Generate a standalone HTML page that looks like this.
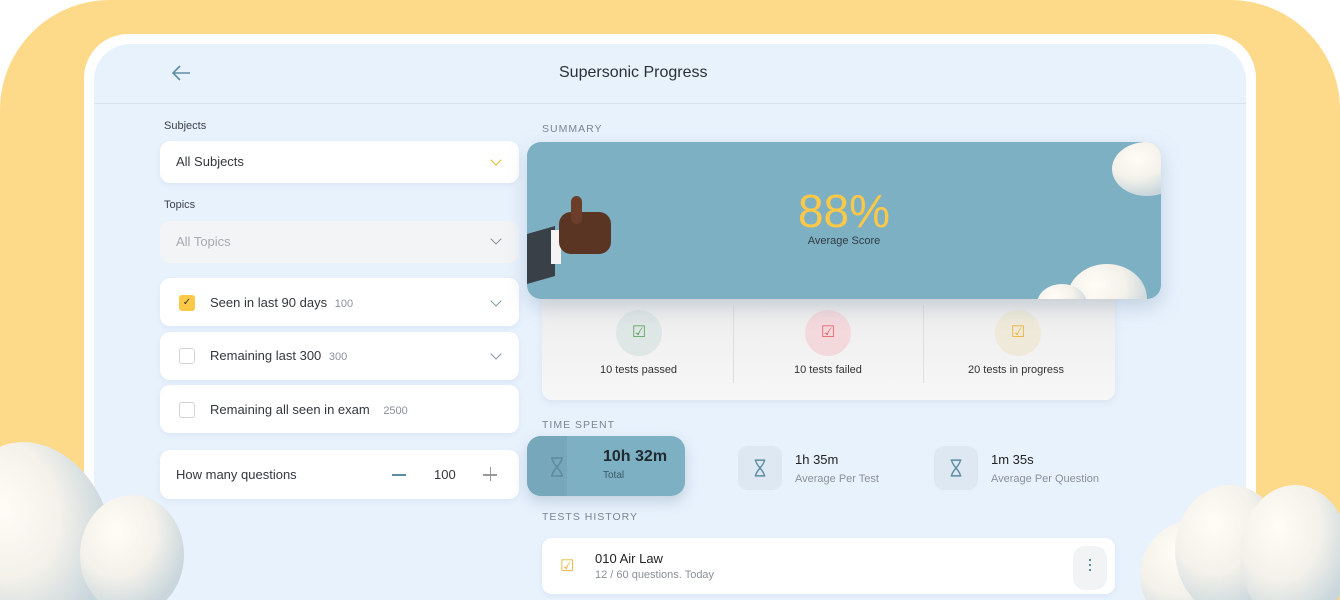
<!DOCTYPE html>
<html style="width:1340px;height:600px;overflow:hidden"><head><meta charset="utf-8"><style>
*{box-sizing:border-box;margin:0;padding:0}
body{width:1340px;height:600px;overflow:hidden;background:#fff;font-family:"Liberation Sans",sans-serif;position:relative;color:#2b2f36}
.abs{position:absolute}
.yel{left:0;top:0;width:1340px;height:600px;background:#fdd98a;border-radius:110px 110px 0 0}
.frame{left:84px;top:34px;width:1172px;height:566px;background:#fff;border-radius:44px 44px 0 0}
.panel{left:94px;top:44px;width:1152px;height:556px;background:#e8f2fd;border-radius:36px 36px 0 0}
.card{background:#fff;border-radius:10px;box-shadow:0 2px 6px rgba(120,150,190,.12)}
.lbl{font-size:11px;color:#3a3f47}
.sec{font-size:10.5px;letter-spacing:1px;color:#7b8592}
.chev{width:8px;height:8px;border-right:1.5px solid #7d98a8;border-bottom:1.5px solid #7d98a8;transform:rotate(45deg)}
.cb{width:16px;height:16px;border:1.5px solid #cfd3d8;border-radius:3px}
.t13{font-size:13px;color:#33373d}
.small{font-size:11px;color:#8a9099}
.hg{width:44px;height:44px;border-radius:10px;background:#dde8f2;display:flex;align-items:center;justify-content:center}
</style></head><body>
<div class="abs yel"></div>
<div class="abs frame"></div>
<div class="abs panel"></div>
<div class="abs" style="left:94px;top:103px;width:1152px;height:1px;background:#d6e2ee"></div>
<svg class="abs" style="left:170px;top:64px" width="22" height="18" viewBox="0 0 22 18"><path d="M20 9H3M10 2L3 9l7 7" fill="none" stroke="#5e8ea3" stroke-width="1.6"/></svg>
<div class="abs" style="left:559px;top:64px;font-size:16px;color:#2b2f36">Supersonic Progress</div>

<div class="abs lbl" style="left:164px;top:120px">Subjects</div>
<div class="abs card" style="left:160px;top:141px;width:359px;height:42px"></div>
<div class="abs t13" style="left:176px;top:154px">All Subjects</div>
<div class="abs chev" style="left:492px;top:156px;border-color:#f0b429"></div>
<div class="abs lbl" style="left:164px;top:199px">Topics</div>
<div class="abs" style="left:160px;top:221px;width:359px;height:42px;background:#f2f4f6;border-radius:10px"></div>
<div class="abs t13" style="left:176px;top:234px;color:#a6abb2">All Topics</div>
<div class="abs chev" style="left:492px;top:235px;border-color:#8a9099"></div>

<div class="abs card" style="left:160px;top:278px;width:359px;height:48px"></div>
<div class="abs cb" style="left:179px;top:295px;background:#fbc847;border-color:#fbc847;font-size:10px;line-height:13px;text-align:center;color:#333">&#10003;</div>
<div class="abs t13" style="left:210px;top:295px">Seen in last 90 days <span class="small" style="margin-left:4px">100</span></div>
<div class="abs chev" style="left:492px;top:297px"></div>
<div class="abs card" style="left:160px;top:332px;width:359px;height:48px"></div>
<div class="abs cb" style="left:179px;top:348px"></div>
<div class="abs t13" style="left:210px;top:348px">Remaining last 300 <span class="small" style="margin-left:4px">300</span></div>
<div class="abs chev" style="left:492px;top:350px"></div>
<div class="abs card" style="left:160px;top:385px;width:359px;height:48px"></div>
<div class="abs cb" style="left:179px;top:402px"></div>
<div class="abs t13" style="left:210px;top:402px">Remaining all seen in exam <span class="small" style="margin-left:10px">2500</span></div>
<div class="abs card" style="left:160px;top:450px;width:359px;height:49px"></div>
<div class="abs t13" style="left:176px;top:467px">How many questions</div>
<div class="abs" style="left:392px;top:474px;width:14px;height:1.5px;background:#5d8ba0"></div>
<div class="abs t13" style="left:434px;top:467px">100</div>
<div class="abs" style="left:483px;top:474px;width:14px;height:1.5px;background:#999"></div>
<div class="abs" style="left:489.5px;top:467px;width:1.5px;height:14px;background:#999"></div>

<div class="abs sec" style="left:542px;top:123px">SUMMARY</div>
<div class="abs" style="left:542px;top:290px;width:573px;height:110px;background:linear-gradient(#ececec,#f7f7f7);border-radius:10px;box-shadow:0 3px 8px rgba(0,0,0,.06)"></div>
<div class="abs" style="left:733px;top:305px;width:1px;height:78px;background:#dedede"></div>
<div class="abs" style="left:923px;top:305px;width:1px;height:78px;background:#dedede"></div>
<div class="abs" style="left:616px;top:310px;width:46px;height:46px;border-radius:50%;background:#dfe6e6;color:#5ea85e;text-align:center;line-height:46px;font-size:16px">&#9745;</div>
<div class="abs" style="left:805px;top:310px;width:46px;height:46px;border-radius:50%;background:#f3d9dc;color:#e2666e;text-align:center;line-height:46px;font-size:16px">&#9745;</div>
<div class="abs" style="left:995px;top:310px;width:46px;height:46px;border-radius:50%;background:#efe9da;color:#eab43a;text-align:center;line-height:46px;font-size:16px">&#9745;</div>
<div class="abs" style="left:600px;top:364px;font-size:11px;color:#333">10 tests passed</div>
<div class="abs" style="left:794px;top:364px;font-size:11px;color:#333">10 tests failed</div>
<div class="abs" style="left:968px;top:364px;font-size:11px;color:#333">20 tests in progress</div>

<svg class="abs" style="left:527px;top:142px;filter:drop-shadow(0 8px 10px rgba(80,110,140,.25))" width="634" height="157" viewBox="0 0 634 157">
 <defs>
  <clipPath id="cc"><rect width="634" height="157" rx="14"/></clipPath>
  <radialGradient id="cg" cx="35%" cy="30%" r="70%"><stop offset="0" stop-color="#fffdf6"/><stop offset=".55" stop-color="#f3f1ea"/><stop offset="1" stop-color="#c9d6dc"/></radialGradient>
 </defs>
 <g clip-path="url(#cc)">
  <rect width="634" height="157" fill="#7eb0c3"/>
  <polygon points="0,92 28,84 28,134 0,142" fill="#3a4047"/>
  <rect x="24" y="88" width="10" height="34" fill="#f4f4f4"/>
  <rect x="32" y="70" width="52" height="42" rx="12" fill="#5a3524"/>
  <rect x="44" y="54" width="11" height="28" rx="6" fill="#6a3e28"/>
  <ellipse cx="620" cy="27" rx="35" ry="27" fill="url(#cg)"/>
  <ellipse cx="580" cy="157" rx="40" ry="35" fill="url(#cg)"/>
  <ellipse cx="535" cy="162" rx="25" ry="20" fill="url(#cg)"/>
 </g>
</svg>
<div class="abs" style="left:527px;top:186px;width:634px;text-align:center;font-size:46px;color:#fbc847;line-height:50px">88%</div>
<div class="abs" style="left:527px;top:235px;width:634px;text-align:center;font-size:11px;color:#2f3b44">Average Score</div>

<div class="abs sec" style="left:542px;top:419px">TIME SPENT</div>
<div class="abs" style="left:527px;top:436px;width:158px;height:60px;background:#7eb0c3;border-radius:14px;box-shadow:0 6px 14px rgba(80,110,140,.25)"></div>
<div class="abs" style="left:527px;top:436px;width:40px;height:60px;background:#76a7ba;border-radius:14px 0 0 14px"></div>
<svg class="abs" style="left:549px;top:457px" width="16" height="20" viewBox="0 0 16 20"><path d="M2 1h12M2 19h12M3 1c0 6 10 12 10 18M13 1c0 6-10 12-10 18" fill="none" stroke="#5d8ba0" stroke-width="1.5"/></svg>
<div class="abs" style="left:603px;top:448px;font-size:16px;font-weight:bold;color:#1f2a30">10h 32m</div>
<div class="abs" style="left:603px;top:470px;font-size:10px;color:#3c5868">Total</div>
<div class="abs hg" style="left:738px;top:446px"><svg width="14" height="18" viewBox="0 0 16 20"><path d="M2 1h12M2 19h12M3 1c0 6 10 12 10 18M13 1c0 6-10 12-10 18" fill="none" stroke="#5d8ba0" stroke-width="1.6"/></svg></div>
<div class="abs" style="left:795px;top:452px;font-size:13px;color:#222">1h 35m</div>
<div class="abs" style="left:795px;top:473px;font-size:11px;color:#8a9099">Average Per Test</div>
<div class="abs hg" style="left:934px;top:446px"><svg width="14" height="18" viewBox="0 0 16 20"><path d="M2 1h12M2 19h12M3 1c0 6 10 12 10 18M13 1c0 6-10 12-10 18" fill="none" stroke="#5d8ba0" stroke-width="1.6"/></svg></div>
<div class="abs" style="left:991px;top:452px;font-size:13px;color:#222">1m 35s</div>
<div class="abs" style="left:991px;top:473px;font-size:11px;color:#8a9099">Average Per Question</div>

<div class="abs sec" style="left:542px;top:511px">TESTS HISTORY</div>
<div class="abs card" style="left:542px;top:538px;width:573px;height:56px"></div>
<div class="abs" style="left:560px;top:556px;font-size:16px;color:#eab43a">&#9745;</div>
<div class="abs" style="left:595px;top:551px;font-size:13px;color:#222">010 Air Law</div>
<div class="abs" style="left:595px;top:569px;font-size:11px;color:#8a9099">12 / 60 questions. Today</div>
<div class="abs" style="left:1073px;top:546px;width:34px;height:44px;border-radius:12px;background:#f1f3f5"></div>
<div class="abs" style="left:1089px;top:559px;width:2px;height:2px;background:#5d8ba0;box-shadow:0 5px 0 #5d8ba0,0 10px 0 #5d8ba0"></div>

<svg class="abs" style="left:0;top:420px" width="1340" height="180" viewBox="0 420 1340 180">
 <defs>
  <radialGradient id="cg2" cx="35%" cy="30%" r="70%"><stop offset="0" stop-color="#fffdf6"/><stop offset=".55" stop-color="#f3f1ea"/><stop offset="1" stop-color="#c9d6dc"/></radialGradient>
 </defs>
 <ellipse cx="35" cy="535" rx="75" ry="95" transform="rotate(-20 35 535)" fill="url(#cg2)"/>
 <ellipse cx="132" cy="555" rx="52" ry="60" fill="url(#cg2)"/>
 <ellipse cx="1195" cy="575" rx="55" ry="55" fill="url(#cg2)"/>
 <ellipse cx="1230" cy="550" rx="55" ry="65" fill="url(#cg2)"/>
 <ellipse cx="1295" cy="555" rx="55" ry="70" fill="url(#cg2)"/>
</svg>
</body></html>
